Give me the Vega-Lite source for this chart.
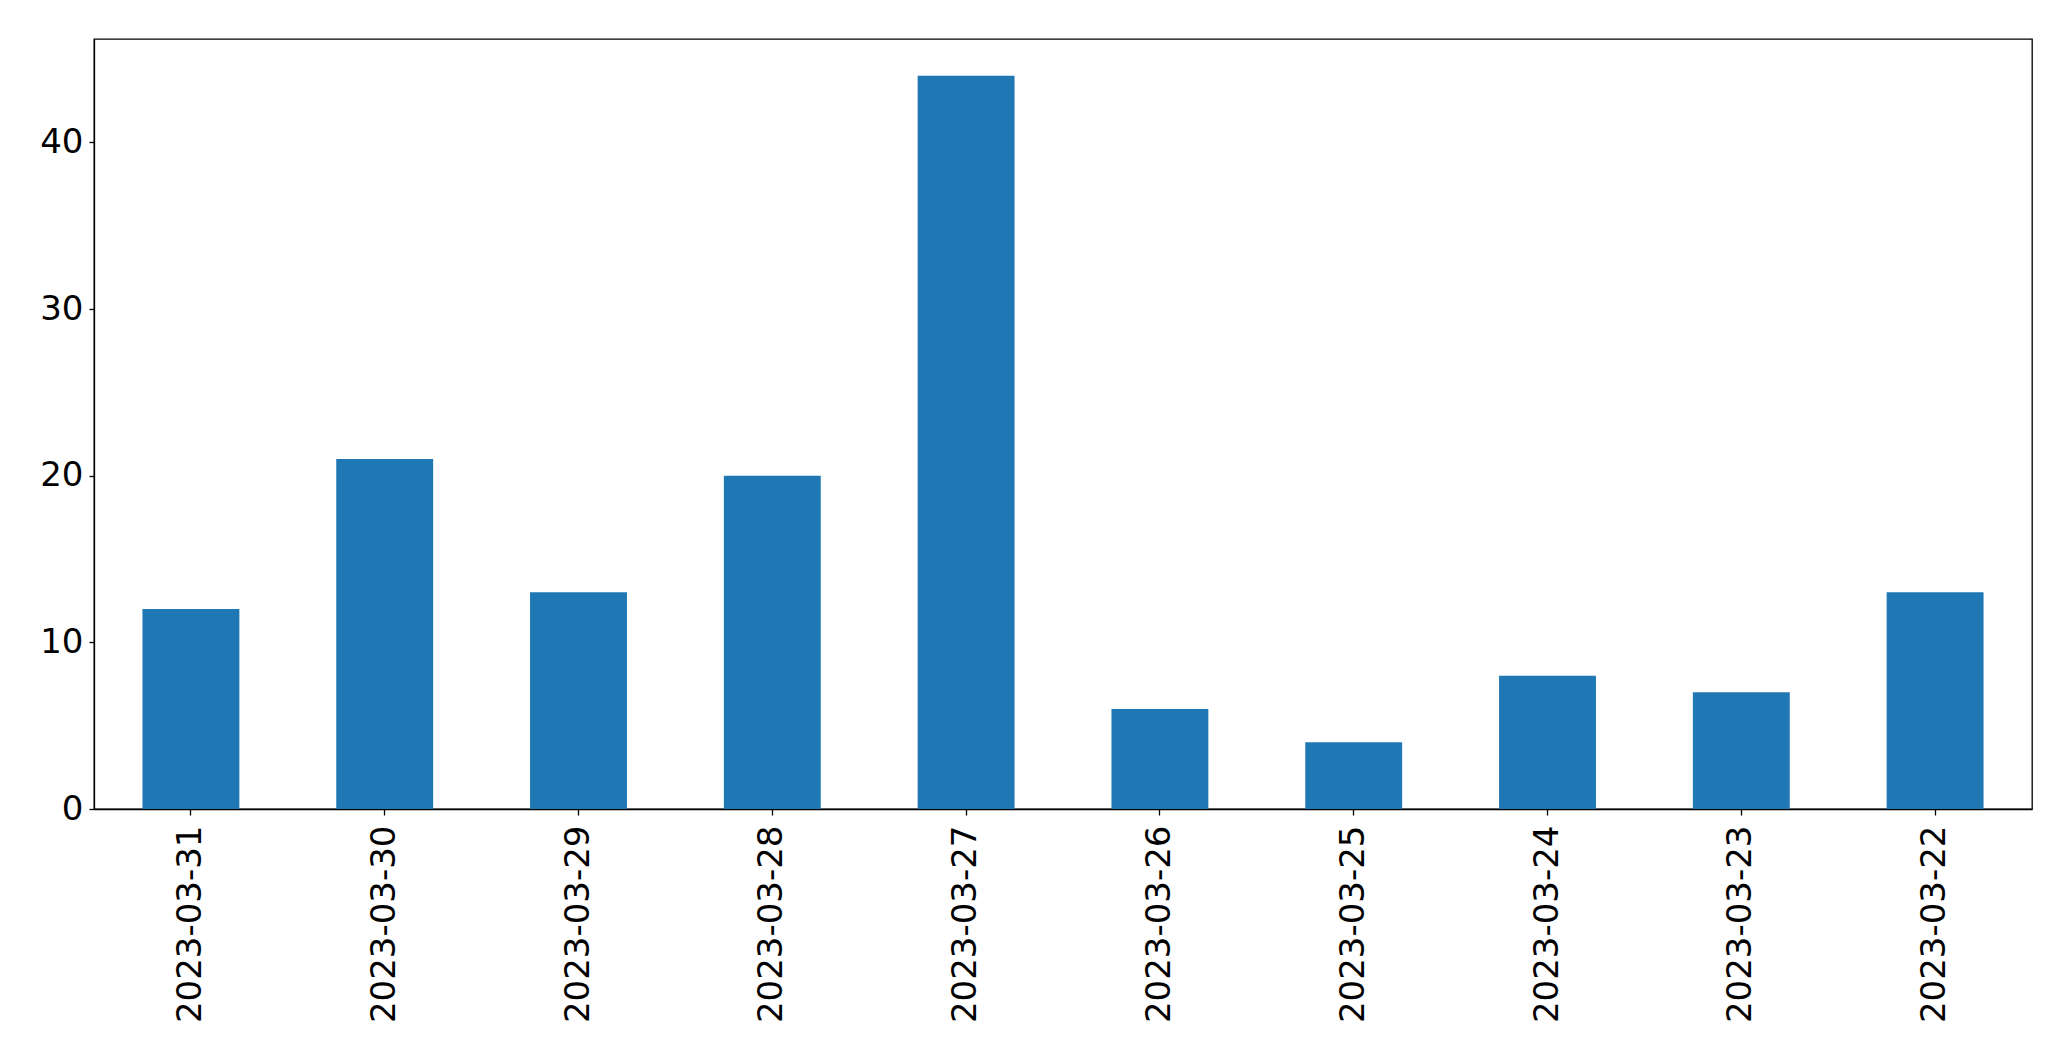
{
  "$schema": "https://vega.github.io/schema/vega-lite/v6.json",
  "width": 1938,
  "height": 770,
  "autosize": {"type": "none"},
  "padding": {"left": 94, "top": 39, "right": 39, "bottom": 252},
  "background": "white",
  "config": {
    "view": {"stroke": "black", "strokeWidth": 1.3},
    "font": "DejaVu Sans"
  },
  "data": {
    "values": [
      {"date": "2023-03-31", "count": 12},
      {"date": "2023-03-30", "count": 21},
      {"date": "2023-03-29", "count": 13},
      {"date": "2023-03-28", "count": 20},
      {"date": "2023-03-27", "count": 44},
      {"date": "2023-03-26", "count": 6},
      {"date": "2023-03-25", "count": 4},
      {"date": "2023-03-24", "count": 8},
      {"date": "2023-03-23", "count": 7},
      {"date": "2023-03-22", "count": 13}
    ]
  },
  "mark": {"type": "bar", "color": "#1f77b4"},
  "encoding": {
    "x": {
      "field": "date",
      "type": "nominal",
      "sort": null,
      "scale": {"paddingInner": 0.5, "paddingOuter": 0.25},
      "axis": {
        "title": null,
        "labelAngle": 270,
        "labelAlign": "right",
        "labelBaseline": "middle",
        "labelFontSize": 34,
        "labelLimit": 0,
        "labelFont": "DejaVu Sans",
        "labelColor": "black",
        "labelPadding": 10,
        "tickSize": 6,
        "tickColor": "black",
        "tickWidth": 1.3,
        "domainColor": "black",
        "domainWidth": 1.3,
        "grid": false
      }
    },
    "y": {
      "field": "count",
      "type": "quantitative",
      "scale": {"domain": [0, 46.2], "nice": false},
      "axis": {
        "title": null,
        "values": [0, 10, 20, 30, 40],
        "labelFontSize": 34,
        "labelFont": "DejaVu Sans",
        "labelColor": "black",
        "labelPadding": 6,
        "tickSize": 5,
        "tickColor": "black",
        "tickWidth": 1.3,
        "domainColor": "black",
        "domainWidth": 1.3,
        "grid": false
      }
    }
  }
}
